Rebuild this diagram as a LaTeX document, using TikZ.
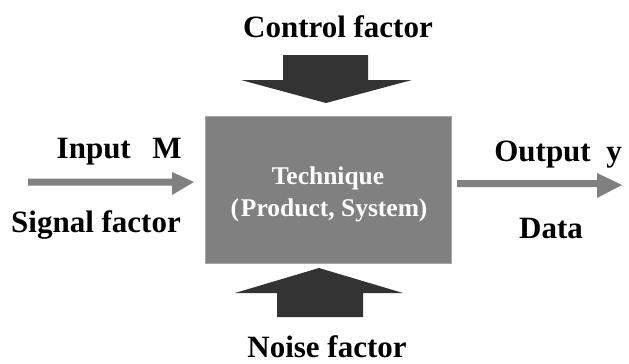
\documentclass[tikz,border=0pt]{standalone}
\usepackage{fontspec}
\setmainfont{Liberation Serif}
\begin{document}
\begin{tikzpicture}[x=1pt,y=-1pt,
  lbl/.style={font=\fontsize{31}{33}\selectfont\bfseries, inner sep=0pt, text=black},
  boxtxt/.style={font=\fontsize{25.5}{31}\selectfont\bfseries, text=white, align=center, inner sep=0pt},
  darkarrow/.style={fill=black!80, draw=none},
  grayarrow/.style={fill=black!50, draw=none}]
\useasboundingbox (0,0) rectangle (629,364);
% central box
\node[fill=black!50, draw=black!35, line width=0.8pt, minimum width=246pt, minimum height=147pt, inner sep=0pt, anchor=north west] (box) at (205,116) {};
\node[boxtxt] (t1) at (328,178) {Technique};
\node[boxtxt] (t2) at (329,210) {(\kern2pt Product, System)};
% top arrow
\fill[darkarrow] (283,55) -- (368,55) -- (368,80) -- (412,80) -- (326,103) -- (241,80) -- (283,80) -- cycle;
% bottom arrow
\fill[darkarrow] (277,317) -- (363,317) -- (363,293) -- (403,293) -- (319,268) -- (235,293) -- (277,293) -- cycle;
% left arrow
\fill[grayarrow] (28,178.5) -- (172,178.5) -- (172,172) -- (194,182) -- (172,195) -- (172,185.5) -- (28,185.5) -- cycle;
% right arrow
\fill[grayarrow] (457,180) -- (597,180) -- (597,173) -- (622,185) -- (597,198) -- (597,187) -- (457,187) -- cycle;
% labels
\node[lbl, anchor=base] (ctrl) at (338,37) {Control factor};
\node[lbl, anchor=base] (noise) at (327,357) {Noise factor};
\node[lbl, anchor=east] (inp) at (182,152) {Input\hspace{0.7em}M};
\node[lbl, anchor=east] (sig) at (181,225) {Signal factor};
\node[lbl, anchor=east] (outp) at (622,155) {Output\hspace{0.5em}y};
\node[lbl] (data) at (551,228) {Data};
\end{tikzpicture}
\end{document}
